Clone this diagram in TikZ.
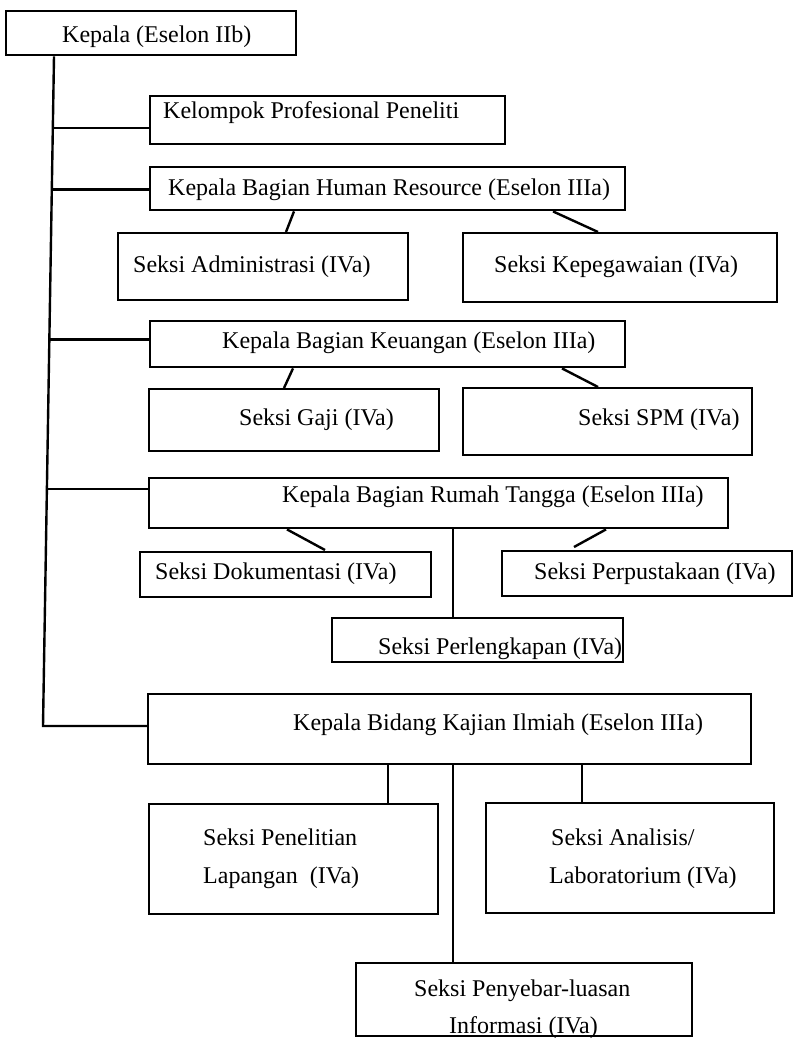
\documentclass[tikz,border=0pt]{standalone}
\usepackage{fontspec}
\setmainfont{Liberation Serif}
\usetikzlibrary{calc}
\begin{document}
\begin{tikzpicture}[x=1pt,y=-1pt,
  box/.style={draw, line width=2.4pt, rectangle, inner sep=0pt, anchor=north west},
  txt/.style={inner sep=0pt, anchor=base west, font=\fontsize{24}{28}\selectfont},
  link/.style={line width=2.4pt}]
\fill[white] (0,0) rectangle (794,1039);
\useasboundingbox (0,0) rectangle (794,1039);

% boxes
\node[box, minimum width=290pt, minimum height=44pt] (kepala) at (5,10) {};
\node[box, minimum width=355pt, minimum height=48pt] (kel) at (149,95) {};
\node[box, minimum width=475pt, minimum height=43pt] (hr) at (149,166) {};
\node[box, minimum width=290pt, minimum height=67pt] (adm) at (117,232) {};
\node[box, minimum width=314pt, minimum height=69pt] (kepeg) at (462,232) {};
\node[box, minimum width=475pt, minimum height=46pt] (keu) at (149,320) {};
\node[box, minimum width=290pt, minimum height=62pt] (gaji) at (148,388) {};
\node[box, minimum width=289pt, minimum height=67pt] (spm) at (462,387) {};
\node[box, minimum width=579pt, minimum height=50pt] (rt) at (148,477) {};
\node[box, minimum width=291pt, minimum height=45pt] (dok) at (139,551) {};
\node[box, minimum width=290pt, minimum height=45pt] (perp) at (501,550) {};
\node[box, minimum width=291pt, minimum height=44pt] (perl) at (331,617) {};
\node[box, minimum width=603pt, minimum height=70pt] (bid) at (147,693) {};
\node[box, minimum width=289pt, minimum height=110pt] (pen) at (148,803) {};
\node[box, minimum width=288pt, minimum height=110pt] (ana) at (485,802) {};
\node[box, minimum width=336pt, minimum height=73pt] (peny) at (355,962) {};

% trunk
\coordinate (tt) at ($(kepala.south west)+(49,0)$);
\coordinate (tb) at (43,726);
\draw[link] (tt) -- (tb) -- (tb -| bid.west);
\coordinate (j1) at ($(tt)!0.107!(tb)$);
\coordinate (j2) at ($(tt)!0.199!(tb)$);
\coordinate (j3) at ($(tt)!0.423!(tb)$);
\coordinate (j4) at ($(tt)!0.646!(tb)$);
\draw[link] (j1) -- (j1 -| kel.west);
\draw[link] (j2) -- (j2 -| hr.west);
\draw[link] (j3) -- (j3 -| keu.west);
\draw[link] (j4) -- (j4 -| rt.west);

% sub connectors
\draw[link] ($(hr.south west)+(145,0)$) -- ($(adm.north west)+(169,0)$);
\draw[link] ($(hr.south west)+(404,0)$) -- ($(kepeg.north west)+(136,0)$);
\draw[link] ($(keu.south west)+(144,0)$) -- ($(gaji.north west)+(136,0)$);
\draw[link] ($(keu.south west)+(413,0)$) -- ($(spm.north west)+(136,0)$);
\draw[link] ($(rt.south west)+(139,0)$) -- ($(dok.north west)+(186,-1)$);
\draw[link] ($(rt.south west)+(458,0)$) -- ($(perp.north west)+(73,-3)$);
\draw[link] ($(rt.south west)+(305,0)$) -- ($(perl.north west)+(122,0)$);
\draw[link] ($(bid.south west)+(241,0)$) -- ($(pen.north west)+(240,0)$);
\draw[link] ($(bid.south west)+(435,0)$) -- ($(ana.north west)+(97,0)$);
\draw[link] ($(bid.south west)+(306,0)$) -- ($(peny.north west)+(98,0)$);

% texts
\node[txt] (kepala-t) at (62,42) {Kepala (Eselon IIb)};
\node[txt] (kel-t) at (163,118) {Kelompok Profesional Peneliti};
\node[txt] (hr-t) at (168,195) {Kepala Bagian Human Resource (Eselon IIIa)};
\node[txt] (adm-t) at (133,272) {Seksi Administrasi (IVa)};
\node[txt] (kepeg-t) at (494,272) {Seksi Kepegawaian (IVa)};
\node[txt] (keu-t) at (222,348) {Kepala Bagian Keuangan (Eselon IIIa)};
\node[txt] (gaji-t) at (239,425) {Seksi Gaji (IVa)};
\node[txt] (spm-t) at (578,425) {Seksi SPM (IVa)};
\node[txt] (rt-t) at (282,502) {Kepala Bagian Rumah Tangga (Eselon IIIa)};
\node[txt] (dok-t) at (155,579) {Seksi Dokumentasi (IVa)};
\node[txt] (perp-t) at (534,579) {Seksi Perpustakaan (IVa)};
\node[txt] (perl-t) at (378,654) {Seksi Perlengkapan (IVa)};
\node[txt] (bid-t) at (293,730) {Kepala Bidang Kajian Ilmiah (Eselon IIIa)};
\node[txt] (pen-t1) at (203,845) {Seksi Penelitian};
\node[txt] (pen-t2) at (203,883) {Lapangan\ \ (IVa)};
\node[txt] (ana-t1) at (551,845) {Seksi Analisis/};
\node[txt] (ana-t2) at (549,883) {Laboratorium (IVa)};
\node[txt] (peny-t1) at (414,996) {Seksi Penyebar-luasan};
\node[txt] (peny-t2) at (449,1033) {Informasi (IVa)};
\end{tikzpicture}
\end{document}
